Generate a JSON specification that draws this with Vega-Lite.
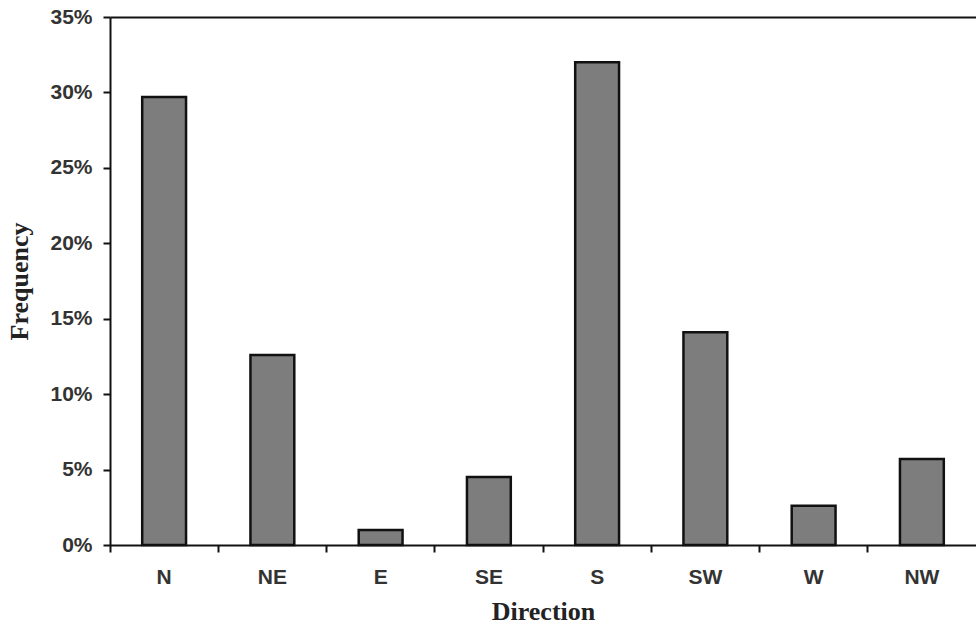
{
  "$schema": "https://vega.github.io/schema/vega-lite/v6.json",
  "width": 866,
  "height": 528,
  "autosize": {"type": "none"},
  "padding": {"left": 110, "top": 17, "right": 0, "bottom": 85},
  "background": "white",
  "config": {
    "view": {"stroke": null},
    "axis": {"grid": false, "domainColor": "#111", "domainWidth": 2, "tickColor": "#111", "tickWidth": 2}
  },
  "data": {
    "values": [
      {"dir": "N", "freq": 0.297},
      {"dir": "NE", "freq": 0.126},
      {"dir": "E", "freq": 0.010},
      {"dir": "SE", "freq": 0.045},
      {"dir": "S", "freq": 0.320},
      {"dir": "SW", "freq": 0.141},
      {"dir": "W", "freq": 0.026},
      {"dir": "NW", "freq": 0.057}
    ]
  },
  "layer": [
    {
      "mark": {"type": "bar", "width": {"band": 0.405}, "fill": "#7d7d7d", "stroke": "#111", "strokeWidth": 2.5},
      "encoding": {
        "x": {
          "field": "dir", "type": "nominal", "sort": null,
          "scale": {"paddingInner": 0, "paddingOuter": 0},
          "axis": {
            "title": "Direction", "labelAngle": 0, "bandPosition": 0,
            "tickSize": 7, "labelPadding": 14,
            "labelFont": "Liberation Sans", "labelFontSize": 21, "labelFontWeight": "bold", "labelColor": "#333",
            "titleFont": "Liberation Serif", "titleFontSize": 26, "titleFontWeight": "bold", "titleColor": "#222", "titlePadding": 11
          }
        },
        "y": {
          "field": "freq", "type": "quantitative",
          "scale": {"domain": [0, 0.35], "nice": false},
          "axis": {
            "title": "Frequency", "format": ".0%", "values": [0, 0.05, 0.1, 0.15, 0.2, 0.25, 0.3, 0.35],
            "tickSize": 7, "labelPadding": 11,
            "labelFont": "Liberation Sans", "labelFontSize": 21, "labelFontWeight": "bold", "labelColor": "#333",
            "titleFont": "Liberation Serif", "titleFontSize": 26, "titleFontWeight": "bold", "titleColor": "#222", "titlePadding": 17
          }
        }
      }
    },
    {
      "mark": {"type": "bar", "opacity": 0},
      "encoding": {
        "x": {
          "field": "dir", "type": "nominal", "sort": null,
          "axis": {"orient": "top", "labels": false, "ticks": false, "title": null, "domain": true}
        },
        "y": {"field": "freq", "type": "quantitative"}
      }
    }
  ],
  "resolve": {"axis": {"x": "independent"}}
}
